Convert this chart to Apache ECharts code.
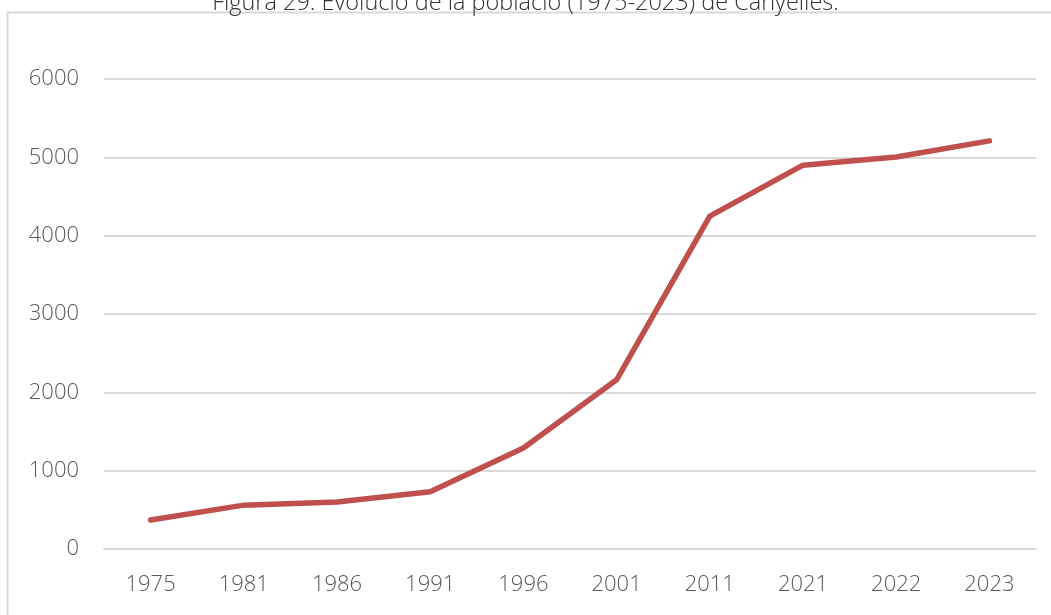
<!DOCTYPE html>
<html>
<head>
<meta charset="utf-8">
<script src="https://cdn.jsdelivr.net/npm/echarts@6/dist/echarts.min.js"></script>
<style>
  html, body { margin: 0; padding: 0; background: #fff; }
  #chart { width: 1051px; height: 615px; }
</style>
</head>
<body>
<div id="chart"></div>
<script>
const years = ["1975", "1981", "1986", "1991", "1996", "2001", "2011", "2021", "2022", "2023"];
const population = [370, 560, 600, 730, 1290, 2160, 4250, 4900, 5005, 5210];
const titleText = "Figura 29. Evolució de la població (1975-2023) de Canyelles.";

const chart = echarts.init(document.getElementById('chart'));
const font = "'Open Sans', sans-serif";

chart.setOption({
    animation: false,
    title: {
        text: titleText,
        left: 'center',
        top: -14,
        textStyle: { fontFamily: font, fontWeight: 300, fontSize: 23.5, color: '#333' }
    },
    graphic: [{
        type: 'rect',
        shape: { x: 7.5, y: 12.5, width: 1060, height: 620 },
        style: { fill: 'none', stroke: '#d9d9d9', lineWidth: 2 },
        silent: true
    }],
    grid: { left: 104, right: 15, top: 79, bottom: 66 },
    xAxis: {
        type: 'category',
        data: years,
        boundaryGap: true,
        axisLine: { lineStyle: { color: '#d9d9d9', width: 2 } },
        axisTick: { show: false },
        axisLabel: { fontFamily: font, fontWeight: 300, fontSize: 22, color: '#595959', margin: 25 }
    },
    yAxis: {
        type: 'value',
        min: 0,
        max: 6000,
        interval: 1000,
        axisLine: { show: false },
        axisTick: { show: false },
        splitLine: { lineStyle: { color: '#d9d9d9', width: 2 } },
        axisLabel: {
            fontFamily: font, fontWeight: 300, fontSize: 22, color: '#595959', margin: 25,
            formatter: v => String(v)
        }
    },
    series: [{
        type: 'line',
        data: population,
        symbol: 'none',
        lineStyle: { color: '#c0504d', width: 5.5, cap: 'round', join: 'round' }
    }]
});
</script>
</body>
</html>
